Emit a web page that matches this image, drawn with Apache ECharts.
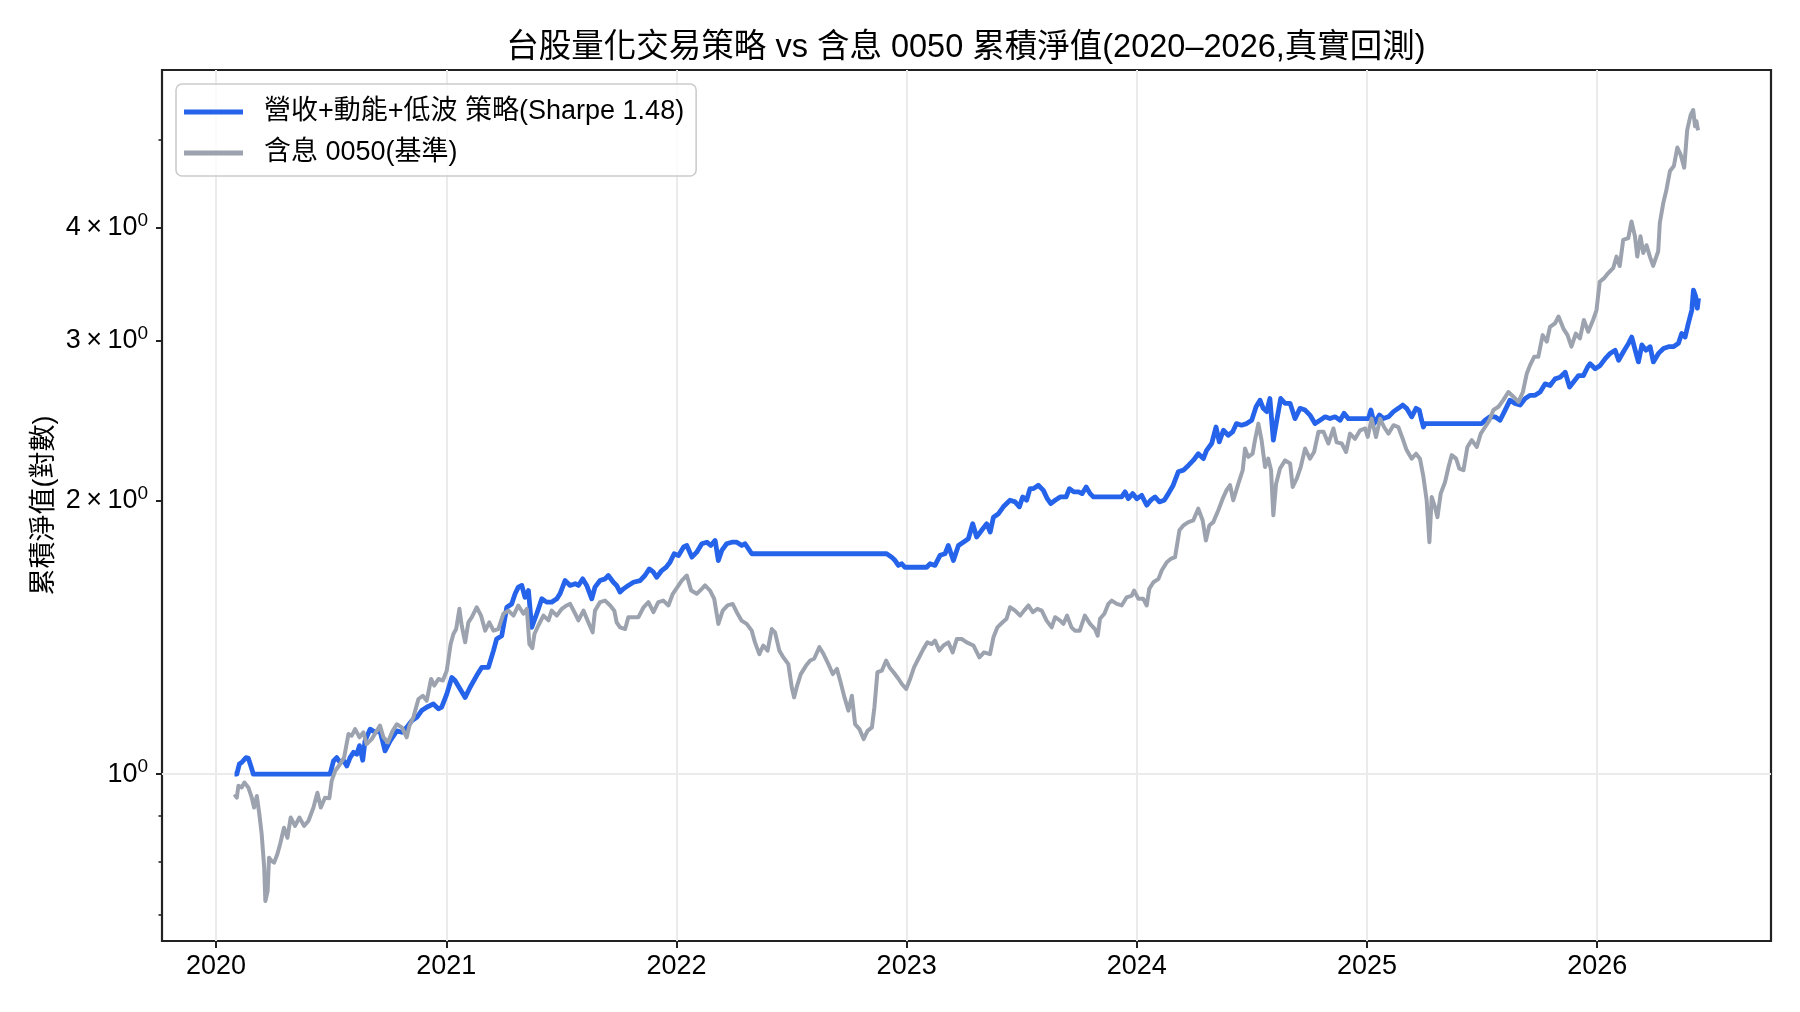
<!DOCTYPE html>
<html>
<head>
<meta charset="utf-8">
<title>台股量化交易策略 vs 含息 0050</title>
<script src="https://cdn.jsdelivr.net/npm/echarts@6/dist/echarts.min.js"></script>
<style>
  html, body { margin: 0; padding: 0; background: #fff; }
  #chart { width: 1800px; height: 1012px; }
</style>
</head>
<body>
<div id="chart"></div>
<script>
// 策略淨值 (年份以小數表示)
var stratYear = [2020.080,2020.090,2020.101,2020.111,2020.130,2020.140,2020.151,2020.162,2020.495,2020.510,2020.524,2020.539,2020.553,2020.568,2020.582,2020.597,2020.611,2020.623,2020.637,2020.647,2020.669,2020.691,2020.712,2020.734,2020.756,2020.785,2020.807,2020.828,2020.850,2020.872,2020.893,2020.915,2020.944,2020.966,2020.980,2021.002,2021.024,2021.038,2021.060,2021.082,2021.103,2021.132,2021.154,2021.183,2021.205,2021.219,2021.241,2021.263,2021.284,2021.299,2021.313,2021.328,2021.342,2021.357,2021.371,2021.393,2021.415,2021.436,2021.458,2021.480,2021.494,2021.516,2021.538,2021.560,2021.574,2021.593,2021.610,2021.632,2021.646,2021.668,2021.690,2021.704,2021.726,2021.740,2021.755,2021.770,2021.791,2021.813,2021.842,2021.863,2021.882,2021.900,2021.914,2021.936,2021.955,2021.972,2021.990,2022.009,2022.031,2022.045,2022.067,2022.088,2022.110,2022.132,2022.149,2022.168,2022.182,2022.197,2022.218,2022.240,2022.262,2022.284,2022.298,2022.313,2022.327,2022.913,2022.935,2022.950,2022.964,2022.979,2022.993,2023.087,2023.102,2023.123,2023.145,2023.167,2023.181,2023.203,2023.225,2023.246,2023.268,2023.287,2023.304,2023.326,2023.348,2023.363,2023.377,2023.399,2023.420,2023.449,2023.471,2023.490,2023.504,2023.521,2023.536,2023.551,2023.572,2023.594,2023.611,2023.626,2023.645,2023.667,2023.693,2023.707,2023.726,2023.747,2023.762,2023.780,2023.797,2023.812,2023.934,2023.949,2023.963,2023.982,2024.000,2024.021,2024.043,2024.060,2024.079,2024.098,2024.119,2024.137,2024.158,2024.180,2024.202,2024.224,2024.245,2024.267,2024.289,2024.303,2024.325,2024.344,2024.358,2024.376,2024.397,2024.416,2024.433,2024.455,2024.477,2024.499,2024.518,2024.535,2024.549,2024.564,2024.578,2024.593,2024.608,2024.625,2024.644,2024.666,2024.687,2024.709,2024.731,2024.752,2024.774,2024.796,2024.818,2024.839,2024.861,2024.883,2024.900,2024.919,2025.006,2025.017,2025.031,2025.054,2025.071,2025.093,2025.115,2025.136,2025.155,2025.172,2025.194,2025.213,2025.227,2025.237,2025.245,2025.252,2025.498,2025.513,2025.534,2025.556,2025.578,2025.600,2025.621,2025.643,2025.665,2025.687,2025.709,2025.730,2025.752,2025.774,2025.795,2025.817,2025.839,2025.861,2025.880,2025.897,2025.919,2025.940,2025.958,2025.969,2025.991,2026.013,2026.035,2026.056,2026.078,2026.093,2026.114,2026.136,2026.150,2026.165,2026.179,2026.194,2026.212,2026.230,2026.244,2026.266,2026.288,2026.310,2026.331,2026.353,2026.367,2026.382,2026.396,2026.411,2026.418,2026.428,2026.435,2026.440];
var stratNav = [1.000,1.000,1.026,1.030,1.043,1.041,1.021,1.000,1.000,1.034,1.043,1.030,1.036,1.021,1.043,1.057,1.052,1.075,1.036,1.088,1.121,1.112,1.116,1.061,1.088,1.116,1.112,1.126,1.145,1.155,1.175,1.185,1.195,1.180,1.185,1.225,1.278,1.268,1.241,1.215,1.246,1.284,1.311,1.311,1.368,1.409,1.421,1.527,1.540,1.580,1.607,1.614,1.566,1.593,1.451,1.502,1.560,1.547,1.547,1.560,1.580,1.634,1.614,1.621,1.614,1.641,1.614,1.560,1.607,1.634,1.641,1.655,1.627,1.614,1.587,1.600,1.614,1.627,1.634,1.655,1.683,1.669,1.648,1.676,1.690,1.712,1.749,1.741,1.779,1.786,1.734,1.756,1.794,1.801,1.786,1.809,1.719,1.764,1.794,1.801,1.801,1.786,1.794,1.771,1.749,1.749,1.734,1.719,1.698,1.705,1.690,1.690,1.705,1.698,1.742,1.749,1.786,1.719,1.786,1.801,1.817,1.887,1.825,1.856,1.887,1.848,1.919,1.936,1.970,2.003,1.995,1.970,2.020,2.003,2.063,2.063,2.081,2.054,2.011,1.986,2.003,2.020,2.020,2.063,2.046,2.046,2.037,2.072,2.037,2.020,2.020,2.046,2.011,2.037,2.011,2.028,1.978,2.003,2.020,1.995,2.003,2.037,2.081,2.153,2.162,2.188,2.216,2.254,2.226,2.273,2.313,2.412,2.323,2.392,2.362,2.382,2.433,2.423,2.433,2.454,2.539,2.582,2.529,2.508,2.593,2.333,2.454,2.593,2.561,2.561,2.464,2.529,2.518,2.486,2.433,2.454,2.475,2.464,2.475,2.454,2.497,2.464,2.464,2.518,2.433,2.487,2.464,2.475,2.508,2.529,2.550,2.529,2.475,2.529,2.518,2.454,2.412,2.433,2.433,2.454,2.475,2.475,2.454,2.518,2.582,2.561,2.550,2.593,2.614,2.614,2.636,2.691,2.680,2.725,2.736,2.771,2.669,2.703,2.748,2.748,2.807,2.832,2.796,2.820,2.869,2.907,2.931,2.857,2.919,2.982,3.030,2.931,2.845,2.970,2.931,2.957,2.845,2.907,2.944,2.957,2.957,2.982,3.057,3.030,3.138,3.245,3.413,3.357,3.260,3.343];

// 含息 0050 淨值
var benchYear = [2020.080,2020.090,2020.097,2020.111,2020.123,2020.140,2020.155,2020.165,2020.177,2020.188,2020.198,2020.209,2020.214,2020.224,2020.230,2020.242,2020.252,2020.266,2020.278,2020.295,2020.310,2020.324,2020.343,2020.362,2020.382,2020.401,2020.423,2020.440,2020.455,2020.473,2020.492,2020.502,2020.517,2020.539,2020.556,2020.575,2020.589,2020.604,2020.623,2020.640,2020.654,2020.676,2020.698,2020.712,2020.727,2020.746,2020.767,2020.785,2020.807,2020.828,2020.840,2020.857,2020.879,2020.898,2020.915,2020.934,2020.948,2020.966,2020.985,2021.002,2021.019,2021.031,2021.043,2021.057,2021.067,2021.082,2021.096,2021.111,2021.132,2021.151,2021.169,2021.187,2021.205,2021.226,2021.248,2021.270,2021.292,2021.313,2021.335,2021.350,2021.361,2021.374,2021.383,2021.400,2021.422,2021.444,2021.458,2021.480,2021.502,2021.523,2021.538,2021.560,2021.574,2021.596,2021.617,2021.636,2021.646,2021.668,2021.690,2021.712,2021.730,2021.740,2021.755,2021.777,2021.791,2021.813,2021.835,2021.857,2021.878,2021.900,2021.921,2021.943,2021.965,2021.984,2022.004,2022.023,2022.045,2022.064,2022.088,2022.110,2022.124,2022.146,2022.164,2022.182,2022.201,2022.222,2022.244,2022.262,2022.283,2022.305,2022.327,2022.341,2022.360,2022.377,2022.396,2022.414,2022.428,2022.447,2022.464,2022.486,2022.501,2022.511,2022.522,2022.540,2022.563,2022.581,2022.598,2022.621,2022.639,2022.660,2022.679,2022.697,2022.711,2022.730,2022.747,2022.762,2022.776,2022.795,2022.813,2022.830,2022.849,2022.860,2022.873,2022.892,2022.911,2022.926,2022.943,2022.965,2022.979,2022.998,2023.015,2023.032,2023.051,2023.073,2023.090,2023.109,2023.123,2023.142,2023.160,2023.181,2023.200,2023.218,2023.239,2023.261,2023.290,2023.316,2023.336,2023.362,2023.377,2023.394,2023.417,2023.434,2023.449,2023.471,2023.493,2023.510,2023.529,2023.548,2023.568,2023.587,2023.608,2023.630,2023.645,2023.667,2023.681,2023.697,2023.716,2023.731,2023.752,2023.774,2023.797,2023.818,2023.830,2023.840,2023.859,2023.876,2023.891,2023.913,2023.934,2023.956,2023.978,2023.988,2024.007,2024.028,2024.043,2024.054,2024.072,2024.094,2024.108,2024.130,2024.147,2024.166,2024.185,2024.202,2024.224,2024.245,2024.267,2024.286,2024.300,2024.315,2024.332,2024.354,2024.373,2024.390,2024.405,2024.419,2024.441,2024.460,2024.470,2024.484,2024.503,2024.513,2024.528,2024.542,2024.557,2024.571,2024.583,2024.593,2024.605,2024.622,2024.644,2024.666,2024.677,2024.695,2024.712,2024.731,2024.752,2024.770,2024.789,2024.811,2024.832,2024.854,2024.868,2024.890,2024.909,2024.926,2024.948,2024.970,2024.992,2025.003,2025.020,2025.039,2025.057,2025.074,2025.093,2025.115,2025.136,2025.155,2025.172,2025.194,2025.213,2025.230,2025.245,2025.259,2025.271,2025.281,2025.295,2025.306,2025.320,2025.339,2025.354,2025.368,2025.387,2025.401,2025.419,2025.436,2025.455,2025.477,2025.494,2025.513,2025.532,2025.549,2025.571,2025.592,2025.614,2025.636,2025.658,2025.677,2025.694,2025.708,2025.726,2025.744,2025.763,2025.781,2025.795,2025.817,2025.832,2025.853,2025.871,2025.888,2025.907,2025.925,2025.942,2025.961,2025.982,2025.997,2026.011,2026.029,2026.048,2026.070,2026.084,2026.098,2026.113,2026.135,2026.149,2026.164,2026.174,2026.188,2026.200,2026.214,2026.229,2026.243,2026.265,2026.272,2026.287,2026.301,2026.316,2026.333,2026.348,2026.362,2026.378,2026.391,2026.406,2026.417,2026.425,2026.431,2026.438];
var benchNav = [0.950,0.942,0.971,0.967,0.979,0.967,0.942,0.919,0.946,0.903,0.859,0.789,0.725,0.744,0.809,0.802,0.799,0.816,0.837,0.873,0.851,0.896,0.877,0.896,0.877,0.888,0.919,0.954,0.919,0.942,0.941,0.983,1.008,1.026,1.043,1.107,1.102,1.121,1.098,1.112,1.079,1.093,1.116,1.131,1.098,1.084,1.116,1.135,1.126,1.098,1.131,1.155,1.210,1.220,1.205,1.273,1.252,1.273,1.268,1.300,1.391,1.427,1.445,1.521,1.458,1.397,1.470,1.489,1.527,1.495,1.439,1.470,1.439,1.445,1.502,1.514,1.495,1.534,1.502,1.521,1.391,1.377,1.427,1.458,1.495,1.477,1.514,1.495,1.521,1.534,1.540,1.502,1.477,1.514,1.470,1.433,1.514,1.547,1.553,1.534,1.514,1.470,1.451,1.445,1.489,1.489,1.489,1.527,1.547,1.508,1.547,1.553,1.534,1.580,1.607,1.634,1.655,1.593,1.580,1.600,1.614,1.593,1.560,1.464,1.514,1.534,1.540,1.508,1.476,1.464,1.439,1.397,1.356,1.386,1.368,1.445,1.433,1.368,1.345,1.322,1.246,1.215,1.246,1.289,1.317,1.334,1.340,1.380,1.356,1.322,1.289,1.306,1.268,1.215,1.175,1.220,1.135,1.121,1.093,1.116,1.126,1.185,1.295,1.300,1.334,1.311,1.295,1.273,1.257,1.241,1.273,1.311,1.340,1.374,1.397,1.391,1.403,1.368,1.386,1.397,1.362,1.409,1.409,1.397,1.386,1.345,1.362,1.356,1.415,1.451,1.470,1.483,1.527,1.514,1.495,1.514,1.534,1.508,1.521,1.514,1.476,1.451,1.489,1.476,1.464,1.495,1.451,1.439,1.439,1.495,1.464,1.445,1.421,1.483,1.502,1.540,1.553,1.540,1.534,1.566,1.573,1.593,1.560,1.560,1.534,1.600,1.627,1.641,1.676,1.712,1.726,1.734,1.856,1.879,1.895,1.903,1.961,1.903,1.809,1.879,1.895,1.953,2.011,2.055,2.081,2.003,2.089,2.162,2.284,2.236,2.254,2.332,2.433,2.332,2.179,2.226,2.162,1.928,2.089,2.171,2.216,2.199,2.072,2.117,2.179,2.284,2.226,2.264,2.383,2.383,2.313,2.403,2.320,2.313,2.264,2.372,2.341,2.392,2.403,2.352,2.464,2.352,2.464,2.412,2.372,2.423,2.412,2.341,2.275,2.226,2.254,2.226,2.125,2.003,1.801,2.020,1.970,1.919,2.037,2.098,2.179,2.246,2.226,2.171,2.162,2.293,2.333,2.293,2.372,2.412,2.454,2.518,2.539,2.582,2.636,2.604,2.571,2.636,2.762,2.820,2.882,2.882,3.045,2.995,3.110,3.138,3.192,3.096,3.045,2.957,3.057,3.020,3.164,3.071,3.164,3.245,3.486,3.516,3.564,3.612,3.716,3.628,3.878,3.895,4.063,3.912,3.716,3.912,3.751,3.825,3.716,3.630,3.767,4.049,4.256,4.406,4.616,4.676,4.900,4.817,4.656,5.124,5.323,5.389,5.172,5.240,5.118];

var yearTicks = [2020, 2021, 2022, 2023, 2024, 2025, 2026];
var yLabelTicks = [1, 2, 3, 4];
var yMinorTicks = [0.7, 0.8, 0.9, 5];

var FONT = "'Liberation Sans', 'Noto Sans CJK TC', sans-serif";

var pairs = function (xs, ys) {
    var out = [];
    for (var i = 0; i < xs.length; i++) {
        out.push([xs[i], ys[i]]);
    }
    return out;
};

var yFormatter = function (v) {
    if (Math.abs(v - 1) < 1e-9) {
        return '{n|10}{s|0}';
    }
    return '{n|' + Math.round(v) + '\u2009×\u200910}{s|0}';
};

// 三條疊在左側的對數軸:標籤刻度、次刻度、10^0 格線
var logAxis = function (extra) {
    var base = {
        type: 'log',
        logBase: 10,
        position: 'left',
        min: 0.655,
        max: 5.965,
        axisLine: { show: false },
        splitLine: { show: false }
    };
    return echarts.util.extend(base, extra);
};

var chart = echarts.init(document.getElementById('chart'), null, { renderer: 'canvas' });

var option = {
    backgroundColor: '#ffffff',
    animation: false,
    textStyle: { fontFamily: FONT },
    title: {
        text: '台股量化交易策略 vs 含息 0050 累積淨值(2020–2026,真實回測)',
        left: 966,
        top: 32,
        padding: 0,
        textAlign: 'center',
        textStyle: { fontFamily: FONT, fontSize: 32.5, fontWeight: 'normal', color: '#000' }
    },
    legend: {
        orient: 'vertical',
        left: 176,
        top: 84,
        padding: [13, 12, 8, 8],
        itemGap: 11,
        itemWidth: 59,
        itemHeight: 5,
        icon: 'rect',
        backgroundColor: 'rgba(255,255,255,0.8)',
        borderColor: '#cccccc',
        borderWidth: 1.6,
        borderRadius: 6,
        textStyle: { fontFamily: FONT, fontSize: 27, color: '#000', lineHeight: 30, padding: [0, 0, 0, 16] },
        data: ['營收+動能+低波 策略(Sharpe 1.48)', '含息 0050(基準)']
    },
    grid: {
        left: 162,
        right: 29,
        top: 70,
        bottom: 71,
        show: true,
        borderColor: '#222',
        borderWidth: 2.2,
        backgroundColor: 'transparent'
    },
    xAxis: {
        type: 'value',
        min: 2019.765,
        max: 2026.755,
        axisLine: { show: false },
        axisTick: {
            show: true,
            length: 7,
            lineStyle: { color: '#222', width: 2 },
            customValues: yearTicks
        },
        axisLabel: {
            margin: 12,
            fontFamily: FONT,
            fontSize: 27,
            color: '#000',
            customValues: yearTicks,
            formatter: function (v) { return String(Math.round(v)); }
        },
        splitLine: { show: true, lineStyle: { color: '#ebebeb', width: 2 } }
    },
    yAxis: [
        logAxis({
            name: '累積淨值(對數)',
            nameLocation: 'middle',
            nameRotate: 90,
            nameGap: 104,
            nameMoveOverlap: false,
            nameTextStyle: { fontFamily: FONT, fontSize: 27, color: '#000' },
            axisTick: { show: true, length: 6, lineStyle: { color: '#222', width: 2 }, customValues: yLabelTicks },
            axisLabel: {
                margin: 14,
                color: '#000',
                customValues: yLabelTicks,
                formatter: yFormatter,
                rich: {
                    n: { fontFamily: FONT, fontSize: 27, color: '#000' },
                    s: { fontFamily: FONT, fontSize: 19, color: '#000', padding: [0, 0, 14, 0] }
                }
            }
        }),
        logAxis({
            axisTick: { show: true, length: 3.5, lineStyle: { color: '#222', width: 1.6 }, customValues: yMinorTicks },
            axisLabel: { show: false }
        }),
        logAxis({
            axisTick: { show: false, customValues: [1] },
            axisLabel: { show: false },
            splitLine: { show: true, lineStyle: { color: '#ebebeb', width: 2 } }
        })
    ],
    series: [
        {
            name: '營收+動能+低波 策略(Sharpe 1.48)',
            type: 'line',
            yAxisIndex: 0,
            showSymbol: false,
            symbol: 'none',
            color: '#2563eb',
            lineStyle: { color: '#2563eb', width: 4.8, join: 'round' },
            data: pairs(stratYear, stratNav),
            z: 3
        },
        {
            name: '含息 0050(基準)',
            type: 'line',
            yAxisIndex: 0,
            showSymbol: false,
            symbol: 'none',
            color: '#9ca3af',
            lineStyle: { color: '#9ca3af', width: 4, join: 'round' },
            data: pairs(benchYear, benchNav),
            z: 4
        }
    ]
};

chart.setOption(option);
</script>
</body>
</html>
